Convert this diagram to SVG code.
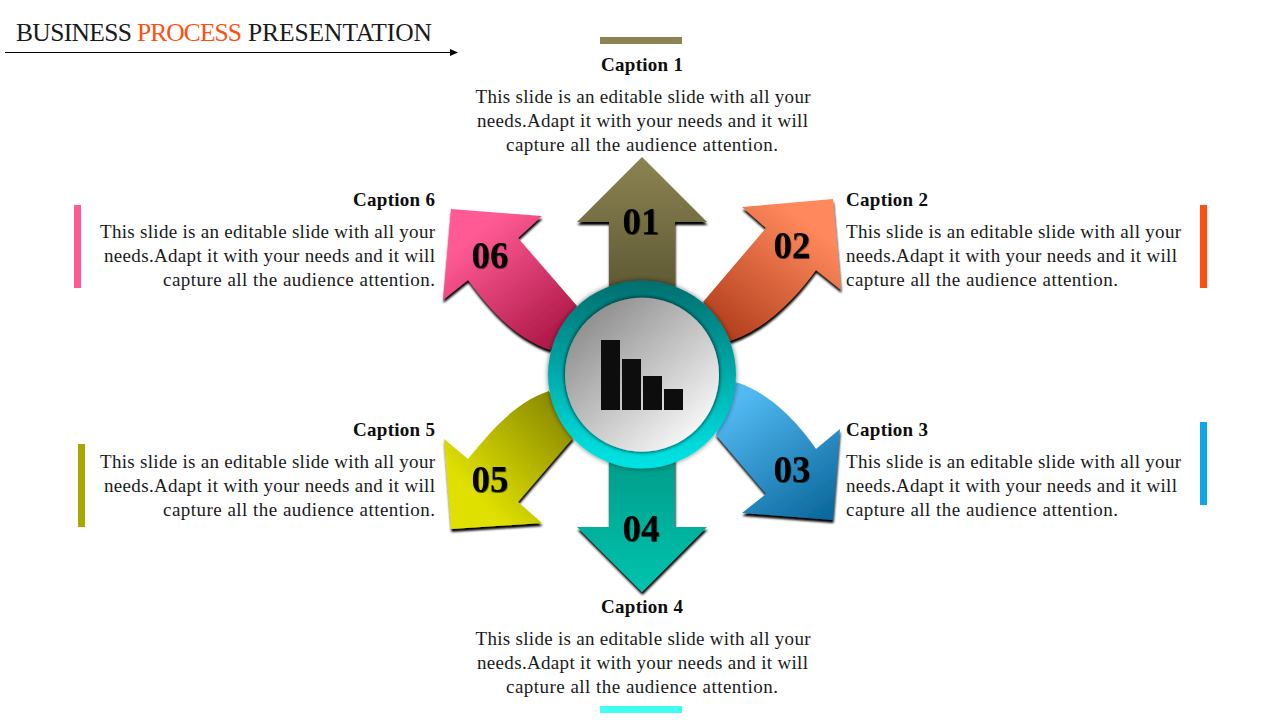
<svg xmlns="http://www.w3.org/2000/svg" width="1280" height="720" viewBox="0 0 1280 720">
<style>
text{font-family:"Liberation Serif",serif;fill:#1a1a1a}
.b{font-size:19px}
.c{font-size:19px;font-weight:bold;fill:#0d0d0d}
.n{font-size:37px;font-weight:bold;fill:#000;text-anchor:middle}
.m{text-anchor:middle}.e{text-anchor:end}
.t{font-size:25.500px}
</style>
<defs>
<filter id="sh" x="-20%" y="-20%" width="140%" height="140%"><feDropShadow dx="0.500" dy="3" stdDeviation="1.300" flood-color="#000" flood-opacity="1"/></filter>
<filter id="ns" x="-20%" y="-20%" width="140%" height="140%"><feDropShadow dx="0.500" dy="1" stdDeviation="0.600" flood-color="#000" flood-opacity=".6"/></filter>
<filter id="rs" x="-20%" y="-20%" width="140%" height="140%"><feDropShadow dx="0" dy="0" stdDeviation="2.500" flood-color="#000" flood-opacity=".55"/></filter>
<filter id="ds" x="-20%" y="-20%" width="140%" height="140%"><feDropShadow dx="0" dy="0" stdDeviation="2" flood-color="#000" flood-opacity=".95"/></filter>
<linearGradient id="g1" x1="0" y1="0" x2="0" y2="1"><stop offset="0" stop-color="#8c8352"/><stop offset="1" stop-color="#5b5631"/></linearGradient>
<linearGradient id="g2" gradientUnits="userSpaceOnUse" x1="810" y1="225" x2="725" y2="335"><stop offset="0" stop-color="#ff895c"/><stop offset="1" stop-color="#b23f1d"/></linearGradient>
<linearGradient id="g3" gradientUnits="userSpaceOnUse" x1="745" y1="395" x2="830" y2="515"><stop offset="0" stop-color="#52b9f2"/><stop offset="1" stop-color="#0b689c"/></linearGradient>
<linearGradient id="g4" x1="0" y1="0" x2="0" y2="1"><stop offset="0" stop-color="#009a88"/><stop offset="1" stop-color="#00c4ae"/></linearGradient>
<linearGradient id="g5" gradientUnits="userSpaceOnUse" x1="470" y1="490" x2="560" y2="405"><stop offset="0" stop-color="#dfe000"/><stop offset="1" stop-color="#8a8a00"/></linearGradient>
<linearGradient id="g6" gradientUnits="userSpaceOnUse" x1="475" y1="235" x2="555" y2="335"><stop offset="0" stop-color="#ff5a94"/><stop offset="1" stop-color="#b01b4a"/></linearGradient>
<linearGradient id="ring" x1="0" y1="0" x2="0" y2="1"><stop offset="0" stop-color="#006e6e"/><stop offset=".9" stop-color="#00dcdc"/><stop offset="1" stop-color="#00e2e2"/></linearGradient>
<linearGradient id="disc" x1=".12" y1=".1" x2=".85" y2=".9"><stop offset="0" stop-color="#8c8c8c"/><stop offset="1" stop-color="#f8f8f8"/></linearGradient>
<marker id="ah" markerWidth="8" markerHeight="8" refX="7" refY="3.500" orient="auto" markerUnits="userSpaceOnUse"><path d="M0 0L8 3.500L0 7z" fill="#000"/></marker>
</defs>
<g id="title">
<text class="t" y="41"><tspan x="16" textLength="116">BUSINESS</tspan><tspan x="137" textLength="105" fill="#ff5010">PROCESS</tspan><tspan x="248" textLength="184">PRESENTATION</tspan></text>
</g>
<g id="connectors">
<path d="M5 52.500H457" stroke="#000" stroke-width="1.200" fill="none" marker-end="url(#ah)"/>
</g>
<g id="arrow-1"><path filter="url(#sh)" d="M642 157L707 222H675V300H609V222H577Z" fill="url(#g1)"/><text class="n" filter="url(#ns)" x="641" y="234">01</text></g>
<g id="arrow-2"><path filter="url(#sh)" d="M833 199L841 290L816 270C800 292 770 328 730 341L703 302L766 228L742 207Z" fill="url(#g2)"/><text class="n" filter="url(#ns)" x="792" y="258">02</text></g>
<g id="arrow-3"><path filter="url(#sh)" d="M833 520L742 513L766 494L716 435L735 382C765 390 795 418 816 449L840 429Z" fill="url(#g3)"/><text class="n" filter="url(#ns)" x="792" y="482">03</text></g>
<g id="arrow-4"><path filter="url(#sh)" d="M642 592L707 527H675V450H609V527H577Z" fill="url(#g4)"/><text class="n" filter="url(#ns)" x="641" y="541">04</text></g>
<g id="arrow-5"><path filter="url(#sh)" d="M451 529L444 439L468 459C490 432 515 402 549 391L573 438L518 502L542 523Z" fill="url(#g5)"/><text class="n" filter="url(#ns)" x="490" y="492">05</text></g>
<g id="arrow-6"><path filter="url(#sh)" d="M451 209L542 216L518 238L577 306L550 350C515 338 490 310 468 280L443 300Z" fill="url(#g6)"/><text class="n" filter="url(#ns)" x="490" y="268">06</text></g>
<g id="hub">
<circle cx="642" cy="374.500" r="94" fill="url(#ring)" filter="url(#rs)"/>
<circle cx="642" cy="374.700" r="77" fill="url(#disc)" filter="url(#ds)"/>
<g fill="#0d0d0d"><rect x="601" y="340" width="19" height="70"/><rect x="622" y="359" width="19" height="51"/><rect x="643" y="376" width="19" height="34"/><rect x="664" y="389" width="19" height="21"/></g>
</g>
<g id="caption-1"><rect x="600" y="37" width="82" height="7" fill="#8c8352"/><text class="c m" x="642" y="71" textLength="82">Caption 1</text>
<text class="b m" x="643" y="103" textLength="335">This slide is an editable slide with all your</text><text class="b m" x="642.500" y="127" textLength="331">needs.Adapt it with your needs and it will</text><text class="b m" x="642" y="151" textLength="272">capture all the audience attention.</text></g>
<g id="caption-2"><rect x="1200" y="205" width="7" height="83" fill="#ff5010"/><text class="c" x="846" y="206" textLength="82">Caption 2</text>
<text class="b" x="846" y="238" textLength="335">This slide is an editable slide with all your</text><text class="b" x="846" y="262" textLength="331">needs.Adapt it with your needs and it will</text><text class="b" x="846" y="286" textLength="272">capture all the audience attention.</text></g>
<g id="caption-3"><rect x="1200" y="422" width="7" height="83" fill="#0ea5e9"/><text class="c" x="846" y="436" textLength="82">Caption 3</text>
<text class="b" x="846" y="468" textLength="335">This slide is an editable slide with all your</text><text class="b" x="846" y="492" textLength="331">needs.Adapt it with your needs and it will</text><text class="b" x="846" y="516" textLength="272">capture all the audience attention.</text></g>
<g id="caption-4"><rect x="600" y="706" width="82" height="7" fill="#3ffff0"/><text class="c m" x="642" y="613" textLength="82">Caption 4</text>
<text class="b m" x="643" y="645" textLength="335">This slide is an editable slide with all your</text><text class="b m" x="642.500" y="669" textLength="331">needs.Adapt it with your needs and it will</text><text class="b m" x="642" y="693" textLength="272">capture all the audience attention.</text></g>
<g id="caption-5"><rect x="78" y="444" width="7" height="83" fill="#a8a800"/><text class="c e" x="435" y="436" textLength="82">Caption 5</text>
<text class="b e" x="435" y="468" textLength="335">This slide is an editable slide with all your</text><text class="b e" x="435" y="492" textLength="331">needs.Adapt it with your needs and it will</text><text class="b e" x="435" y="516" textLength="272">capture all the audience attention.</text></g>
<g id="caption-6"><rect x="74" y="205" width="7" height="83" fill="#ff5a94"/><text class="c e" x="435" y="206" textLength="82">Caption 6</text>
<text class="b e" x="435" y="238" textLength="335">This slide is an editable slide with all your</text><text class="b e" x="435" y="262" textLength="331">needs.Adapt it with your needs and it will</text><text class="b e" x="435" y="286" textLength="272">capture all the audience attention.</text></g>
</svg>
